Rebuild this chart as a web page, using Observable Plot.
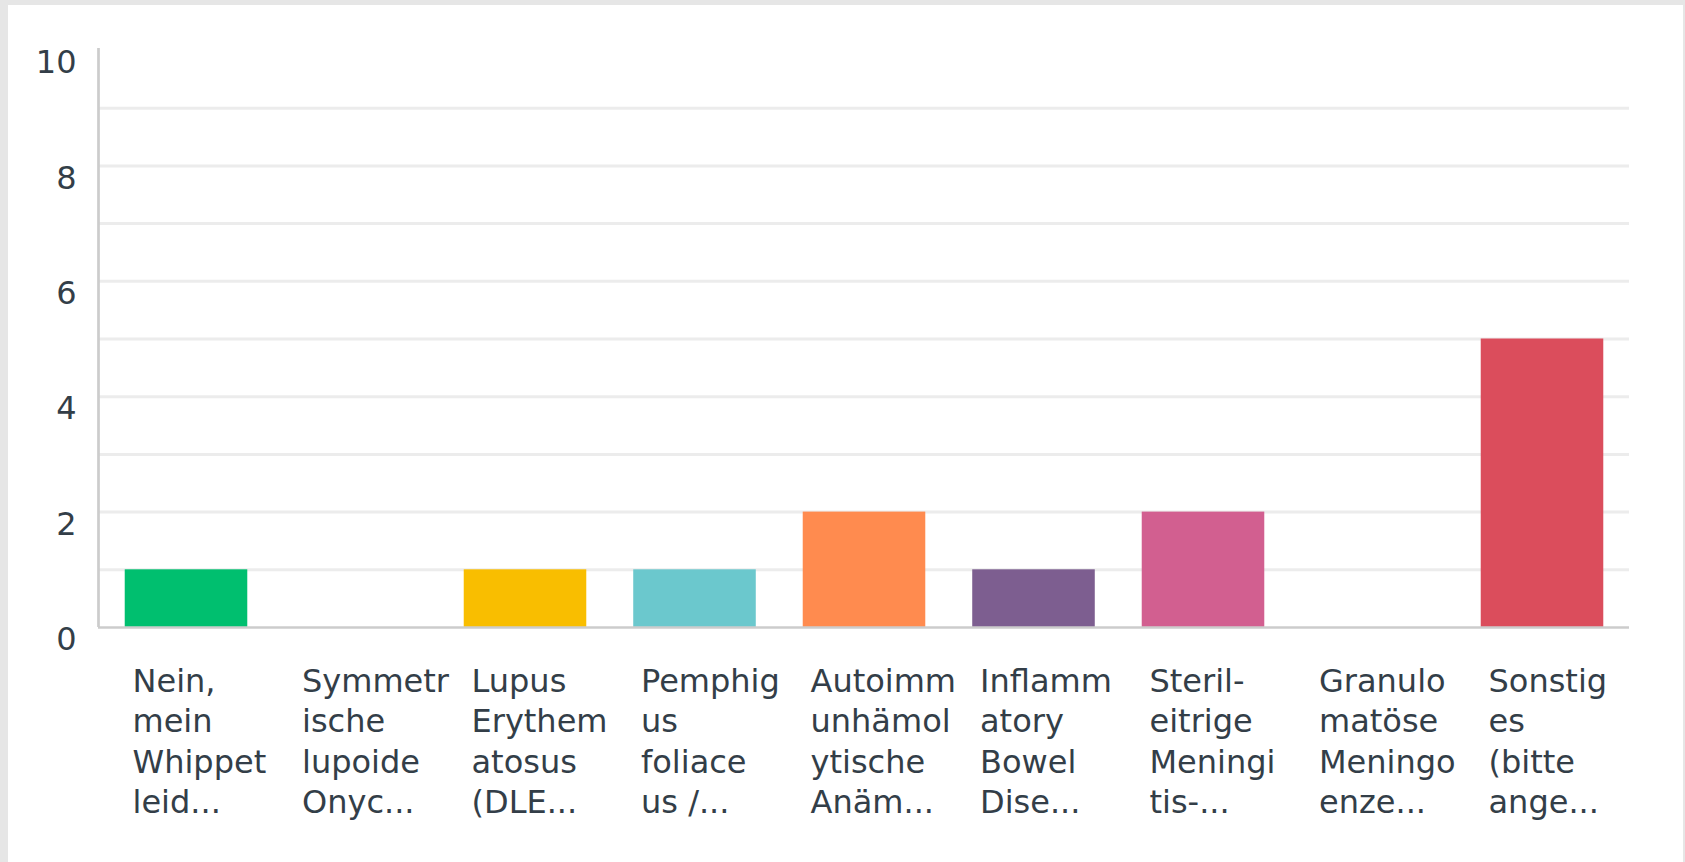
<!DOCTYPE html>
<html>
<head>
<meta charset="utf-8">
<script src="https://cdn.jsdelivr.net/npm/d3@7"></script>
<script src="https://cdn.jsdelivr.net/npm/@observablehq/plot@0.6"></script>
<style>
  html, body { margin: 0; padding: 0; width: 1685px; height: 862px; overflow: hidden; background: #e6e6e6; }
  #card { position: absolute; left: 8px; top: 5px; width: 1675px; height: 857px; background: #ffffff; }
  #chart { position: absolute; left: 0; top: 0; }
</style>
</head>
<body>
<div id="card"></div>
<div id="chart"></div>
<script>
const categories = [
  "Nein,\nmein\nWhippet\nleid...",
  "Symmetr\nische\nlupoide\nOnyc...",
  "Lupus\nErythem\natosus\n(DLE...",
  "Pemphig\nus\nfoliace\nus /...",
  "Autoimm\nunhämol\nytische\nAnäm...",
  "Inflamm\natory\nBowel\nDise...",
  "Steril-\neitrige\nMeningi\ntis-...",
  "Granulo\nmatöse\nMeningo\nenze...",
  "Sonstig\nes\n(bitte\nange..."
];
const values = [1, 0, 1, 1, 2, 1, 2, 0, 5];
const colors = ["#00bf6f", "#507cb6", "#f9be00", "#6bc8cd", "#ff8b4f", "#7d5e90", "#d25f90", "#209bd3", "#db4d5c"];
const yTicks = [0, 2, 4, 6, 8, 10];
const gridValues = [1, 2, 3, 4, 5, 6, 7, 8, 9];

const data = categories.map((c, i) => ({cat: c, value: values[i], color: colors[i]}));

const textColor = "#333e48";

const yAxisLine = (index, scales, values, dimensions) => {
  const line = d3.create("svg:line")
    .attr("x1", dimensions.marginLeft + 0.5)
    .attr("x2", dimensions.marginLeft + 0.5)
    .attr("y1", scales.y(10) - 2)
    .attr("y2", scales.y(0))
    .attr("stroke", "#cccccc")
    .attr("stroke-width", 2.7);
  return line.node();
};

const chart = Plot.plot({
  width: 1685,
  height: 862,
  marginTop: 50,
  marginBottom: 235,
  marginLeft: 98,
  marginRight: 56,
  style: {background: "transparent", fontFamily: "'DejaVu Sans', sans-serif", fontSize: "32px", color: textColor},
  x: {domain: categories, range: [101.25, 1626.75], round: false, paddingInner: 0.277, paddingOuter: 0.1385, label: null},
  y: {domain: [0, 10], label: null},
  marks: [
    Plot.ruleY(gridValues, {stroke: "#ececec", strokeWidth: 3}),
    Plot.barY(data, {x: "cat", y: "value", fill: "color"}),
    Plot.ruleY([0], {stroke: "#cccccc", strokeWidth: 2.5}),
    yAxisLine,
    Plot.axisY(yTicks, {tickSize: 0, tickPadding: 22, dy: 12.5, fontSize: 32, fill: textColor, textAnchor: "end", label: null, tickFormat: d3.format("d")}),
    Plot.axisX({tickSize: 0, tickPadding: 36, textAnchor: "start", dx: -54, lineHeight: 1.26, fontSize: 32, fill: textColor, label: null})
  ]
});
document.getElementById("chart").appendChild(chart);
</script>
</body>
</html>
